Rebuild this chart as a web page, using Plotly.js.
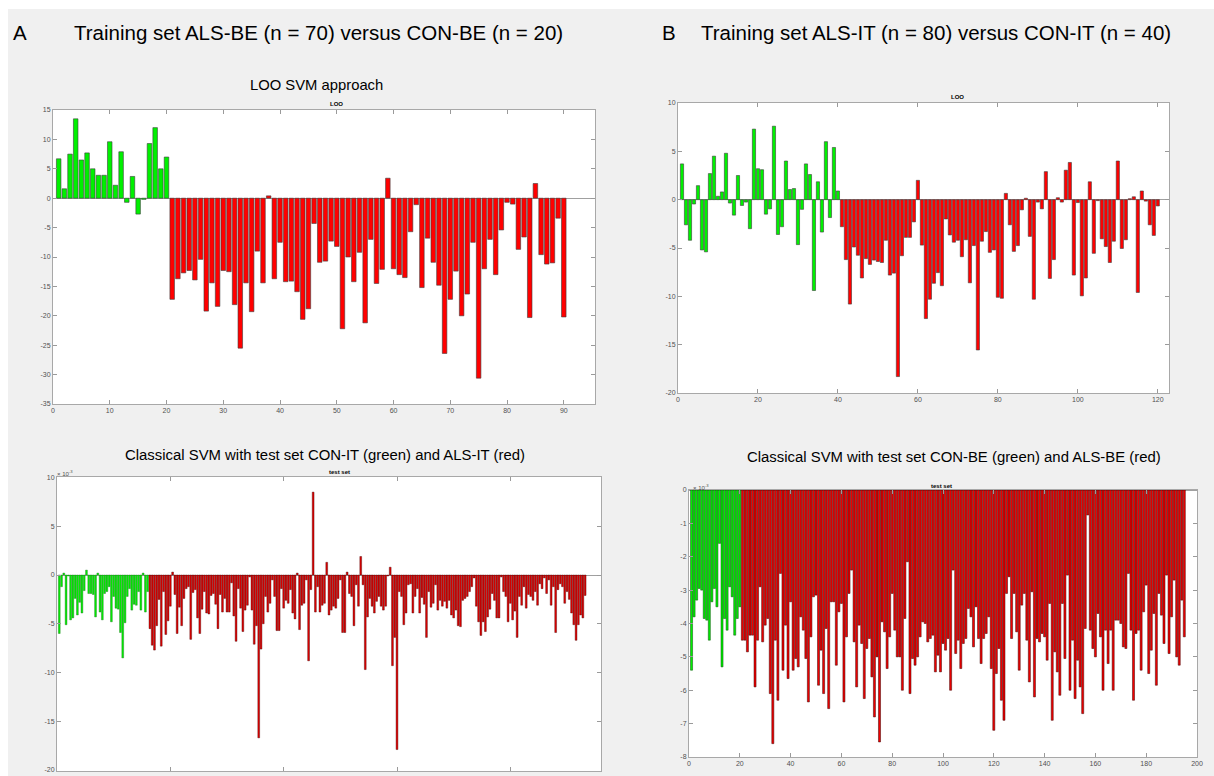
<!DOCTYPE html>
<html><head><meta charset="utf-8">
<script src="https://cdn.plot.ly/plotly-3.0.1.min.js"></script>
<style>html,body{margin:0;padding:0;background:#fff}#chart{width:1214px;height:776px}</style>
</head><body><div id="chart"></div>
<script>
// ---------- DATA ----------
// Panel A, LOO SVM (training set BE): CON-BE (1-20) green, ALS-BE (21-90) red
const looA_con = [6.7,1.6,7.5,13.5,6.5,7.7,5.0,3.9,3.9,9.6,2.2,7.9,-0.7,3.7,-2.7,-0.2,9.3,12.0,5.0,7.0];
const looA_als = [-17.2,-13.7,-12.7,-12.3,-13.9,-10.4,-19.2,-14.4,-18.4,-12.3,
  -12.5,-18.1,-25.5,-14.4,-19.3,-9.0,-14.4,0.4,-13.7,-7.5,
  -14.2,-14.1,-15.9,-20.6,-18.8,-4.3,-10.9,-10.7,-7.3,-8.2,
  -22.2,-10.0,-14.2,-9.2,-21.2,-7.0,-14.5,-12.1,3.4,-12.0,
  -13.0,-13.5,-5.7,-1.1,-15.2,-6.8,-10.9,-14.8,-26.4,-17.2,
  -12.4,-20.0,-16.3,-7.5,-30.6,-12.0,-7.0,-13.0,-5.4,-0.7,
  -1.0,-8.7,-6.6,-20.3,2.5,-9.6,-11.2,-11.0,-3.4,-20.2];

// Panel B, LOO SVM (training set IT): CON-IT (1-40) green, ALS-IT (41-120) red
const looB_con = [3.7,-2.6,-4.2,-0.45,1.45,-5.2,-5.4,2.7,4.5,0.35,
  0.8,4.8,-0.35,-1.6,2.5,-0.6,-0.25,-3.0,7.3,3.2,
  3.1,-1.5,-0.95,7.6,-3.6,-2.8,4.0,1.05,1.15,-4.65,
  -1.0,3.7,2.6,-9.4,1.85,-3.35,6.0,-1.85,5.4,0.9];
const looB_als = [-2.8,-6.2,-10.8,-4.9,-5.75,-8.1,-6.1,-6.7,-6.25,-6.4,
  -6.5,-4.2,-7.8,-7.6,-18.3,-5.8,-3.9,-3.9,-2.3,2.0,
  -4.7,-12.3,-10.3,-8.65,-7.55,-8.9,-2.0,-3.65,-4.4,-4.2,
  -5.9,-4.15,-8.6,-4.75,-15.55,-4.3,-3.3,-5.45,-5.2,-10.1,
  -10.2,0.65,-2.6,-5.35,-4.75,-1.05,0.15,-3.8,-10.3,-0.25,
  -0.95,2.9,-8.15,-6.2,0.2,-0.25,3.05,3.85,-7.8,-0.3,
  -9.95,-8.1,1.85,-5.55,-0.1,-4.05,-4.85,-6.5,-4.3,4.0,
  -5.05,-4.15,0.1,0.3,-9.6,0.9,-0.15,-2.6,-3.7,-0.65];

// Panel A, classical SVM test set (x 10^-3): CON-IT green, ALS-IT red
const testA_con = [-6.0,-1.2,0.2,-5.1,-0.1,-4.6,-4.4,-2.4,-4.1,-2.8,
  -3.9,-1.6,0.5,-1.9,-1.9,-2.0,-4.3,0.2,-3.8,-4.6,
  -1.9,-1.7,-1.2,-4.8,-2.2,-3.4,-3.5,-5.9,-8.5,-4.9,
  -2.2,-1.4,-3.6,-3.0,-3.1,-1.7,-3.6,0.2,-3.8,-1.7];
const testA_als = [-5.5,-7.2,-7.7,-5.2,-2.5,-7.3,-1.7,-6.1,-4.7,-3.2,
  0.3,-2.0,-6.0,-3.3,-5.2,-2.4,-1.4,-1.2,-6.6,-1.8,
  -1.5,-4.4,-6.0,-3.5,-1.7,-3.9,-4.0,-2.1,-1.9,-3.0,
  -5.5,-2.0,-3.8,-2.4,-3.8,-3.8,-0.8,-4.2,-6.8,-1.4,
  -3.4,-5.8,-3.6,-3.1,-0.2,-3.6,-7.1,-5.2,-16.7,-7.6,
  -5.0,-2.2,-3.8,-2.9,-0.5,-2.2,-5.7,-5.7,-1.4,-3.4,
  -2.6,-2.9,-1.5,-3.9,-4.5,0.2,-5.6,-3.1,-2.9,-0.5,
  -8.8,-1.5,8.5,-3.8,-1.2,-3.8,-3.1,-2.9,1.3,-4.1,
  -3.6,-3.2,-3.4,-2.4,-0.5,-5.9,-5.9,0.3,-1.9,-2.2,
  -5.2,-1.0,-3.2,1.9,-1.0,-9.7,-4.3,-2.4,-3.2,-3.9,
  -2.7,-2.2,-3.2,-3.6,-3.2,-0.1,0.8,-9.3,-6.4,-17.9,
  -1.7,-2.2,-5.1,-3.9,-1.0,-0.9,-3.9,-2.2,-1.4,-3.9,
  -2.3,-3.0,-6.4,-1.7,-3.3,-2.9,-1.0,-3.6,-2.6,-3.2,
  -2.7,-3.4,-2.6,-4.1,-4.4,-3.6,-5.2,-5.3,-2.6,-2.4,
  -2.2,-1.7,-1.2,-0.3,-3.2,-4.8,-6.2,-4.8,-5.8,-4.3,
  -3.5,-1.9,-2.6,-4.4,-4.4,-0.2,-1.7,-2.2,-4.8,-2.9,
  -4.6,-3.7,-6.4,-2.2,-3.1,-1.2,-3.4,-2.0,-2.2,-2.6,
  -1.7,-3.1,-0.9,-1.4,-0.3,-1.9,-0.5,-3.1,-1.2,-5.9,
  -1.5,-0.9,-1.2,-2.9,-1.7,-2.5,-3.9,-5.1,-6.7,-5.1,
  -4.1,-4.4,-2.1];

// Panel B, classical SVM test set (x 10^-3): CON-BE green, ALS-BE red
const testB_con = [-5.4,-3.8,-3.3,-2.95,-3.0,-3.85,-3.9,-4.5,-3.35,-2.95,
  -3.5,-1.6,-5.3,-3.85,-4.2,-2.9,-3.2,-4.35,-3.85,-3.5];
const testB_als = [-4.5,-4.5,-4.85,-4.35,-4.35,-5.9,-4.5,-2.9,-4.55,-4.05,
  -3.85,-6.1,-7.6,-4.5,-6.3,-2.5,-5.4,-4.05,-5.65,-3.35,
  -5.4,-5.05,-5.3,-3.8,-4.2,-5.05,-6.35,-4.4,-3.2,-3.15,
  -5.85,-4.8,-6.1,-4.15,-6.55,-3.35,-3.35,-5.25,-3.65,-3.4,
  -6.35,-4.4,-3.1,-2.4,-4.55,-5.9,-4.05,-4.6,-6.25,-4.75,
  -4.45,-5.6,-6.8,-5.0,-7.55,-3.95,-4.25,-5.35,-4.4,-3.1,
  -4.2,-5.0,-5.0,-6.0,-3.85,-2.15,-6.1,-5.05,-5.25,-5.0,
  -4.4,-3.95,-4.0,-4.55,-4.45,-4.35,-5.45,-4.95,-5.45,-4.6,
  -4.8,-4.45,-6.0,-2.4,-4.9,-4.5,-5.35,-4.6,-4.45,-3.55,
  -3.8,-4.7,-3.5,-4.45,-5.2,-4.45,-4.3,-3.8,-5.35,-7.2,
  -5.5,-4.75,-6.3,-6.9,-3.1,-2.6,-4.45,-3.1,-4.25,-5.4,
  -3.45,-3.1,-4.5,-5.75,-3.05,-6.2,-4.45,-4.55,-4.3,-4.4,
  -5.1,-3.4,-6.9,-4.85,-5.45,-6.15,-3.4,-5.05,-2.55,-6.0,
  -4.5,-6.25,-5.1,-5.9,-6.7,-4.15,-0.75,-4.2,-4.75,-5.0,
  -3.7,-4.4,-6.0,-4.2,-5.2,-4.2,-6.0,-3.9,-3.9,-4.0,
  -4.7,-4.75,-2.5,-4.2,-6.3,-4.3,-4.2,-5.4,-3.65,-2.85,
  -5.5,-4.8,-3.7,-5.85,-3.1,-3.75,-4.6,-2.55,-4.9,-3.8,
  -2.7,-5.0,-5.25,-3.3,-4.4];

// Tick values
const ticksA_top_x = [0,10,20,30,40,50,60,70,80,90];
const ticksA_top_y = [-35,-30,-25,-20,-15,-10,-5,0,5,10,15];
const ticksB_top_x = [0,20,40,60,80,100,120];
const ticksB_top_y = [-20,-15,-10,-5,0,5,10];
const ticksA_bot_x = [50,100,150,200];
const ticksA_bot_y = [-20,-15,-10,-5,0,5,10];
const ticksB_bot_x = [0,20,40,60,80,100,120,140,160,180,200];
const ticksB_bot_y = [-8,-7,-6,-5,-4,-3,-2,-1,0];

// Text
const headerA = 'Training set ALS-BE (n = 70) versus CON-BE (n = 20)';
const headerB = 'Training set ALS-IT (n = 80) versus CON-IT (n = 40)';
const subA_top = 'LOO SVM approach';
const subA_bot = 'Classical SVM with test set CON-IT (green) and ALS-IT (red)';
const subB_bot = 'Classical SVM with test set CON-BE (green) and ALS-BE (red)';

// ---------- LAYOUT ----------
const W = 1214, H = 776;
const fx = p => p / W, fy = p => 1 - p / H;
const FONT = 'Liberation Sans, Arial, Helvetica, sans-serif';
const GREEN = '#00f000', RED = '#ff0000';

const box = {
  aTop: {l: 53, r: 595, t: 110, b: 404},
  bTop: {l: 678, r: 1169, t: 103, b: 393},
  aBot: {l: 57, r: 601, t: 477, b: 771},
  bBot: {l: 689, r: 1197, t: 490, b: 757}
};

function bars(vals, start, color, edge, ew, n) {
  return {
    type: 'bar', x: vals.map((_, i) => start + i), y: vals,
    marker: {color: color, line: {color: edge, width: ew}},
    xaxis: 'x' + n, yaxis: 'y' + n, hoverinfo: 'skip', showlegend: false
  };
}

const data = [
  bars(looA_con, 1, GREEN, '#3c3c3c', 0.6, ''),
  bars(looA_als, looA_con.length + 1, RED, '#3c3c3c', 0.6, ''),
  bars(looB_con, 1, GREEN, '#3c3c3c', 0.6, '2'),
  bars(looB_als, looB_con.length + 1, RED, '#3c3c3c', 0.6, '2'),
  bars(testA_con, 1, GREEN, '#1e6e1e', 0.4, '3'),
  bars(testA_als, testA_con.length + 1, '#e00000', '#420000', 0.4, '3'),
  bars(testB_con, 1, GREEN, '#0a4a0a', 0.5, '4'),
  bars(testB_als, testB_con.length + 1, '#f00000', '#3a0000', 0.5, '4')
];

function ax(b, horiz, range, tv, showLabels, anchor, zero) {
  return {
    domain: horiz ? [fx(b.l), fx(b.r)] : [fy(b.b), fy(b.t)],
    range: range, tickmode: 'array', tickvals: tv, ticktext: tv.map(v => String(v)),
    showticklabels: showLabels, ticks: 'inside', ticklen: 4, tickcolor: '#9a9a9a',
    showline: true, linecolor: '#a8a8a8', linewidth: 1, mirror: 'ticks',
    showgrid: false, zeroline: !!zero, zerolinecolor: '#a0a0a0', zerolinewidth: 1,
    tickfont: {family: FONT, size: 7, color: '#505050'}, anchor: anchor, fixedrange: true
  };
}

const layout = {
  width: W, height: H, margin: {l: 0, r: 0, t: 0, b: 0},
  paper_bgcolor: '#ffffff', plot_bgcolor: 'rgba(0,0,0,0)',
  barmode: 'overlay', bargap: 0.2, showlegend: false,
  font: {family: FONT},
  xaxis:  ax(box.aTop, true, [0, 95.5], ticksA_top_x, true, 'y'),
  yaxis:  ax(box.aTop, false, [-35, 15], ticksA_top_y, true, 'x', true),
  xaxis2: ax(box.bTop, true, [0, 122.8], ticksB_top_x, true, 'y2'),
  yaxis2: ax(box.bTop, false, [-20, 10], ticksB_top_y, true, 'x2', true),
  xaxis3: ax(box.aBot, true, [0, 240], ticksA_bot_x, false, 'y3'),
  yaxis3: ax(box.aBot, false, [-20.1, 10.05], ticksA_bot_y, true, 'x3', true),
  xaxis4: ax(box.bBot, true, [0, 200], ticksB_bot_x, true, 'y4'),
  yaxis4: ax(box.bBot, false, [-8, 0], ticksB_bot_y, true, 'x4', true),
  shapes: [
    {type: 'rect', xref: 'paper', yref: 'paper', x0: fx(8), x1: 1, y0: 0, y1: fy(9),
     fillcolor: '#f0f0f0', line: {width: 0}, layer: 'below'}
  ].concat(Object.values(box).map(b => ({
    type: 'rect', xref: 'paper', yref: 'paper', x0: fx(b.l), x1: fx(b.r), y0: fy(b.b), y1: fy(b.t),
    fillcolor: '#ffffff', line: {width: 0}, layer: 'below'
  }))),
  annotations: []
};

function txt(t, x, y, size, opts) {
  return Object.assign({
    text: t, xref: 'paper', yref: 'paper', x: fx(x), y: fy(y),
    xanchor: 'center', yanchor: 'middle', showarrow: false,
    font: {family: FONT, size: size, color: '#000'}
  }, opts || {});
}

layout.annotations.push(
  txt('A', 20, 33, 20.5),
  txt(headerA, 318, 33, 20.5),
  txt('B', 669, 33, 20.5),
  txt(headerB, 936, 33, 20.5),
  txt(subA_top, 316, 85, 14.8),
  txt(subA_bot, 325, 455, 14.9),
  txt(subB_bot, 954, 457, 14.9),
  txt('<b>LOO</b>', 337, 104, 6),
  txt('<b>LOO</b>', 957, 97, 6),
  txt('<b>test set</b>', 339, 472, 6),
  txt('<b>test set</b>', 942, 486, 6),
  txt('\u00d7 10<sup>-3</sup>', 55, 473, 6, {xanchor: 'left', font: {family: FONT, size: 6, color: '#505050'}}),
  txt('\u00d7 10<sup>-3</sup>', 691, 487, 6, {xanchor: 'left', font: {family: FONT, size: 6, color: '#505050'}})
);

Plotly.newPlot('chart', data, layout, {staticPlot: true, displayModeBar: false});
</script>
</body></html>
